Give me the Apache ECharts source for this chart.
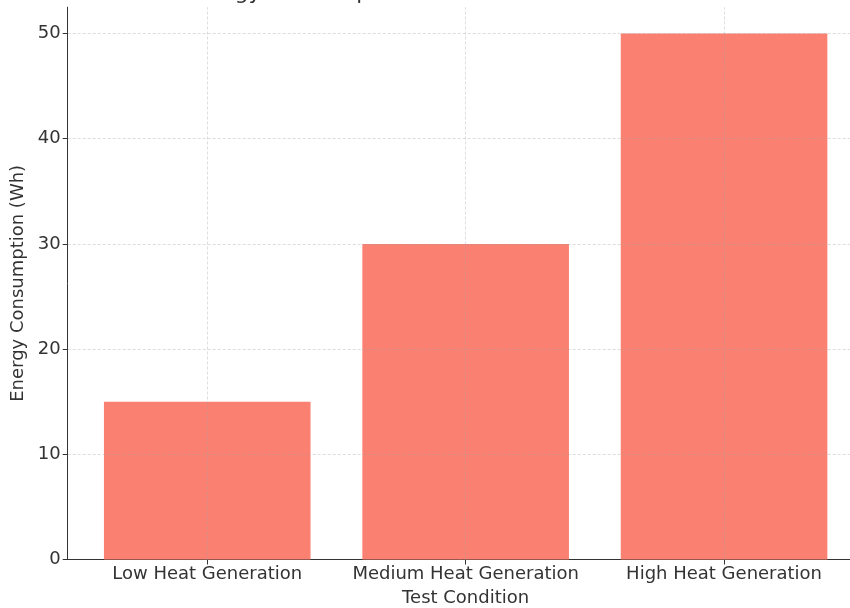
<!DOCTYPE html>
<html>
<head>
<meta charset="utf-8">
<script src="https://cdn.jsdelivr.net/npm/echarts@6/dist/echarts.min.js"></script>
<style>html,body{margin:0;padding:0;background:#fff;}#c{width:850px;height:608px;}</style>
</head>
<body>
<div id="c"></div>
<script>
const titleText = 'Energy Consumption Under Different Test Conditions';
const xName = 'Test Condition';
const yName = 'Energy Consumption (Wh)';
const categories = ['Low Heat Generation', 'Medium Heat Generation', 'High Heat Generation'];
const values = [15, 30, 50];
const yTicks = [0, 10, 20, 30, 40, 50];

const catIdx = categories.map((_, i) => i);
const font = 'DejaVu Sans';
const textColor = '#333';
const fs = 18;
const gridStyle = { color: 'rgba(160,160,160,0.45)', width: 0.8, type: [3, 2] };

const chart = echarts.init(document.getElementById('c'), null, { renderer: 'canvas' });
chart.setOption({
  animation: false,
  backgroundColor: '#fff',
  title: {
    text: titleText,
    left: 465.6,
    textAlign: 'center',
    top: -23,
    textStyle: { fontFamily: font, fontSize: 21.6, fontWeight: 'normal', color: textColor }
  },
  grid: { left: 67.7, right: -13.6, top: 7.2, bottom: 48.5, outerBoundsMode: 'none', containLabel: false },
  xAxis: {
    type: 'value',
    min: -0.54,
    max: 2.54,
    name: xName,
    nameLocation: 'middle',
    nameGap: 30,
    nameTextStyle: { fontFamily: font, fontSize: fs, color: textColor },
    axisLine: { show: true, onZero: false, lineStyle: { color: '#333', width: 1 } },
    axisTick: { show: true, length: 5, customValues: catIdx, lineStyle: { color: '#333' } },
    axisLabel: {
      customValues: catIdx,
      formatter: v => categories[Math.round(v)],
      margin: 6,
      fontFamily: font, fontSize: fs, color: textColor
    },
    splitLine: { show: false }
  },
  yAxis: {
    type: 'value',
    min: 0,
    max: 52.5,
    name: yName,
    nameLocation: 'middle',
    nameGap: 37,
    nameTextStyle: { fontFamily: font, fontSize: fs, color: textColor },
    axisLine: { show: true, onZero: false, lineStyle: { color: '#333', width: 1 } },
    axisTick: { show: true, length: 5, customValues: yTicks, lineStyle: { color: '#333' } },
    axisLabel: {
      customValues: yTicks,
      margin: 7,
      fontFamily: font, fontSize: fs, color: textColor
    },
    splitLine: { show: false }
  },
  series: [{
    type: 'bar',
    data: values.map((v, i) => [i, v]),
    barWidth: 206.6,
    itemStyle: { color: '#FA8072' },
    markLine: {
      silent: true,
      symbol: 'none',
      label: { show: false },
      lineStyle: gridStyle,
      z: 5,
      data: catIdx.map(i => ({ xAxis: i })).concat(yTicks.slice(1).map(t => ({ yAxis: t })))
    }
  }]
});
</script>
</body>
</html>
